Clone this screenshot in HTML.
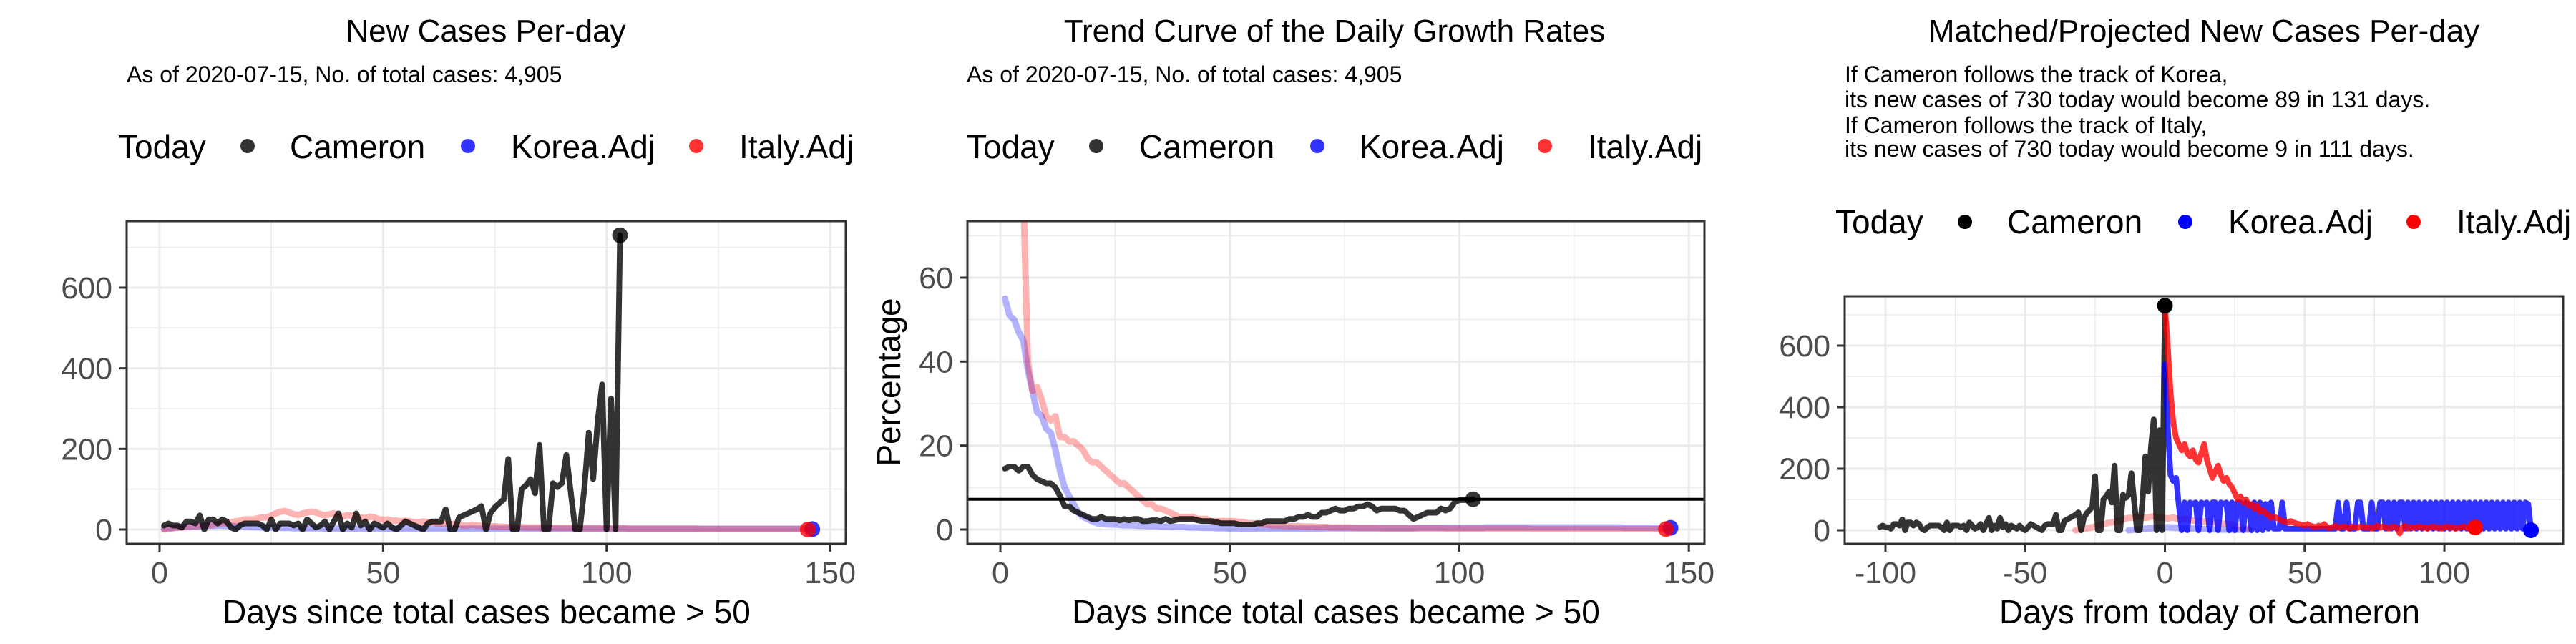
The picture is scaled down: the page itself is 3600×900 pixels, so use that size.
<!DOCTYPE html>
<html><head><meta charset="utf-8"><style>
html,body{margin:0;padding:0;background:#fff;}
svg{display:block;font-family:"Liberation Sans",Arial,sans-serif;}
</style></head><body>
<svg id="chart" width="3600" height="900" viewBox="0 0 3600 900" xmlns="http://www.w3.org/2000/svg">
<rect x="0" y="0" width="3600" height="900" fill="#fff"/>
<defs>
<clipPath id="clip1"><rect x="177" y="309" width="1005" height="451"/></clipPath>
<clipPath id="clip2"><rect x="1352" y="309" width="1030" height="451"/></clipPath>
<clipPath id="clip3"><rect x="2578" y="414" width="1004" height="346"/></clipPath>
</defs>
<text x="679" y="58" font-size="44" text-anchor="middle">New Cases Per-day</text>
<text x="177" y="115" font-size="32">As of 2020-07-15, No. of total cases: 4,905</text>
<g>
<text x="165" y="221" font-size="46">Today</text>
<circle cx="346" cy="204" r="10" fill="#000" fill-opacity="0.8"/>
<text x="405" y="221" font-size="46">Cameron</text>
<circle cx="654" cy="204" r="10" fill="#00f" fill-opacity="0.8"/>
<text x="714" y="221" font-size="46">Korea.Adj</text>
<circle cx="973" cy="204" r="10" fill="#f00" fill-opacity="0.8"/>
<text x="1033" y="221" font-size="46">Italy.Adj</text>
</g>
<text x="1865" y="58" font-size="44" text-anchor="middle">Trend Curve of the Daily Growth Rates</text>
<text x="1351" y="115" font-size="32">As of 2020-07-15, No. of total cases: 4,905</text>
<g>
<text x="1351" y="221" font-size="46">Today</text>
<circle cx="1532" cy="204" r="10" fill="#000" fill-opacity="0.8"/>
<text x="1592" y="221" font-size="46">Cameron</text>
<circle cx="1841" cy="204" r="10" fill="#00f" fill-opacity="0.8"/>
<text x="1900" y="221" font-size="46">Korea.Adj</text>
<circle cx="2159" cy="204" r="10" fill="#f00" fill-opacity="0.8"/>
<text x="2219" y="221" font-size="46">Italy.Adj</text>
</g>
<text transform="translate(1258,534) rotate(-90)" font-size="46" text-anchor="middle">Percentage</text>
<text x="3080" y="58" font-size="44" text-anchor="middle">Matched/Projected New Cases Per-day</text>
<g font-size="32">
<text x="2578" y="115">If Cameron follows the track of Korea,</text>
<text x="2578" y="150">its new cases of 730 today would become 89 in 131 days.</text>
<text x="2578" y="186">If Cameron follows the track of Italy,</text>
<text x="2578" y="219">its new cases of 730 today would become 9 in 111 days.</text>
</g>
<g>
<text x="2565" y="326" font-size="46">Today</text>
<circle cx="2746" cy="310" r="10" fill="#000"/>
<text x="2805" y="326" font-size="46">Cameron</text>
<circle cx="3054" cy="310" r="10" fill="#00f"/>
<text x="3114" y="326" font-size="46">Korea.Adj</text>
<circle cx="3373" cy="310" r="10" fill="#f00"/>
<text x="3433" y="326" font-size="46">Italy.Adj</text>
</g>
<text x="680" y="871" font-size="46" text-anchor="middle">Days since total cases became &gt; 50</text>
<text x="1867" y="871" font-size="46" text-anchor="middle">Days since total cases became &gt; 50</text>
<text x="3088" y="871" font-size="46" text-anchor="middle">Days from today of Cameron</text>
</svg>
<script>
const cameronNew = [10,15,10,10,5,20,20,15,35,0, 25,25,15,25,20,5,0,10,15,15, 15,15,10,0,25,0,15,15,15,10, 15,0,25,15,5,10,20,0,20,40, 0,15,5,40,10,20,0,15,10,5, 15,5,0,10,20,15,10,5,0,15,
 20,20,20,50,0,0,30,35,40,45, 50,58,0,40,55,65,75,175,0,0, 100,110,125,90,210,0,0,115,105,115, 185,90,0,0,100,240,125,270,360,0, 325,0,730];
const koreaNew = [2,3,4,5,6,6,7,8,8,9, 10,9,10,10,9,9,8,8,7,7, 6,6,5,5,5,4,4,4,4,3, 3,3,3,3,3,3,2,2,2,2,
 2,2,2,2,2,2,2,2,2,2, 2,2,2,2,2,2,2,2,2,2, 2,2,2,2,2,2,2,2,2,2, 2,2,2,2,2,2,2,2,2,2, 2,2,2,2,2,2,2,2,2,2,
 2,2,2,2,2,2,2,2,2,2, 2,2,2,2,2,2,2,2,2,2, 2,2,2,2,2,2,2,2,2,2, 2,2,2,2,2,2,2,2,2,2, 2,2,2,2,2,2,2,2,2,2, 2,2,2,2,2,1];
const italyNew = [0,2,3,5,5,6,8,8,10,10, 10,12,14,16,15,18,20,22,25,25, 25,28,30,30,35,40,44,46,42,38, 36,40,42,44,42,38,35,38,40,36, 32,36,34,30,30,28,32,30,26,24,
 25,22,22,20,22,20,18,18,20,18, 18,15,15,14,14,12,12,10,10,12, 10,10,8,8,8,7,7,6,6,6, 6,5,5,5,5,5,4,4,4,4, 4,4,4,3,3,3,3,3,3,3,
 3,3,3,3,2,2,2,2,2,2, 2,2,2,2,2,2,2,2,2,2, 1,1,1,1,1,1,1,1,1,1, 1,1,1,1,1,1,1,1,1,1, 1,1,1,1,0];
const cameronRate = [14.5,15,15,14,15,15,13,12,11.5,11, 11,10,8,5.5,5.5,4.5,4,3.5,3,2.5, 2.5,3,2.5,2.5,2.5,2.2,2.5,2.2,2.5,2.5, 2,2,2.2,2.2,2,2.5,2,2.2,2.5,2.5,
 2.5,2.5,2.2,2,2,2,1.8,1.5,1.5,1.5, 1.5,1.2,1.2,1.2,1.2,1.5,1.5,2,2,2, 2,2,2.5,2.5,3,3,3.5,3,3,4, 4,4.5,5,4.5,4.5,5,5,5.5,5.5,6,
 5.5,4.5,5,5,5,5,4.5,4.5,3.5,2.5, 3,3.5,4,4,4,5,4.5,5,6.5,7, 7,7,7.2];
const koreaRate = [55,51,50,47,45,38,33,28,27,24, 23,19,14,10,8,6,4,3,2.5,2, 1.5,1.4,1.3,1.2,1.2,1.1,1,1,1,0.9, 0.9,0.8,0.8,0.8,0.7,0.7,0.7,0.6,0.6,0.6,
 0.5,0.5,0.5,0.4,0.4,0.4,0.3,0.3,0.3,0.2, 0.2,0.2,0.2,0.2,0.2,0.2,0.2,0.2,0.2,0.2, 0.2,0.2,0.2,0.2,0.2,0.2,0.2,0.2,0.2,0.2, 0.3,0.3,0.3,0.3,0.3,0.3,0.3,0.3,0.3,0.3,
 0.3,0.3,0.3,0.3,0.3,0.3,0.3,0.3,0.3,0.3, 0.4,0.4,0.4,0.4,0.4,0.4,0.4,0.4,0.4,0.4, 0.4,0.4,0.4,0.4,0.4,0.5,0.5,0.5,0.5,0.5, 0.5,0.5,0.5,0.5,0.5,0.5,0.5,0.5,0.5,0.5,
 0.5,0.5,0.5,0.5,0.5,0.5,0.5,0.5,0.5,0.5, 0.5,0.5,0.5,0.5,0.5,0.4,0.4,0.4,0.4,0.4, 0.4,0.4,0.4,0.4,0.4,0.4];
const italyRate = [100,95,90,85,80,40,33,34,31,27, 26,27,22,22,21,21,20,19,17,16, 16,15,14,13,12,11,11,10,9,8, 7,6,6,5,5,4.5,4,3.5,3,3, 3,3,2.5,2.5,2.5,2,2,2,2,2,
 2,1.8,1.8,1.5,1.5,1.5,1.2,1.2,1,1, 0.9,0.9,0.8,0.8,0.8,0.7,0.7,0.7,0.6,0.6, 0.6,0.5,0.5,0.5,0.5,0.5,0.4,0.4,0.4,0.4, 0.4,0.4,0.3,0.3,0.3,0.3,0.3,0.3,0.3,0.3,
 0.3,0.3,0.3,0.3,0.3,0.3,0.2,0.2,0.2,0.2, 0.2,0.2,0.2,0.2,0.2,0.2,0.2,0.2,0.2,0.2, 0.2,0.2,0.2,0.2,0.2,0.1,0.1,0.1,0.1,0.1, 0.1,0.1,0.1,0.1,0.1,0.1,0.1,0.1,0.1,0.1,
 0.1,0.1,0.1,0.1,0.1,0.1,0.1,0.1,0.1,0.1, 0.1,0.1,0.1,0.1,0.1];
const koreaProj = [540,340,180,160,170,80,0,90,0,90, 85,90,0,90,85,90,0,90,90,0, 90,85,90,0,90,0,90,90,0,90, 85,0,90,0,90,0,85,5,90,5,
 5,5,90,5,5,5,5,5,5,5, 5,5,5,5,5,5,5,5,5,5, 5,5,90,5,5,90,5,5,5,90, 90,5,5,5,90,5,5,90,90,5, 90,5,90,5,90,90,5,90,5,90,
 5,90,5,90,5,90,5,90,5,90, 5,90,5,90,5,90,5,90,5,90, 5,90,5,90,5,90,5,90,5,90, 5,90,5,90,5,90,5,90,5,90, 85,0];
const italyProj = [730,600,450,350,300,280,260,280,250,240, 260,230,220,250,280,230,200,170,190,210, 180,160,170,150,140,120,100,110,90,100, 80,85,70,80,60,65,55,50,40,45,
 40,35,30,28,25,30,25,22,20,18, 15,20,15,12,10,15,12,20,10,8, 10,15,8,10,12,10,5,12,10,8, 12,10,8,10,5,10,15,8,12,10,
 5,10,12,8,-10,10,15,5,10,8, 10,12,8,10,5,10,12,8,10,5, 10,12,8,10,5,8,10,12,8,10, 5,9];
const italyPre = [0,2,4,5,6,8,10,12,15,18, 20,22,25,25,28,30,30,35,38,40, 40,42,44,45,42,40,42,44,45,42, 40,42,40,38,40,42,38,36,35,38, 36,34,32,30,32,30,28,30,28,26, 25,22,22,20,22,20,18,15,12,10, 8,6,5];
const koreaPre = [0,1,2,3,4,5,5,6,6,7, 8,8,9,9,10,9,9,8,8,7, 7,6,6,5,5,5,4,4,4,3, 3,3,3,2,2,2,2,2,2,2, 2,2,2,2];
const italyPreStart = -32, koreaPreStart = -13;
const newTicksY = [0,200,400,600], newMinorY = [100,300,500,700];
const rateTicksY = [0,20,40,60], rateMinorY = [10,30,50,70];
const daysTicks = [0,50,100,150], daysMinor = [25,75,125];
const fromTicks = [-100,-50,0,50,100], fromMinor = [-75,-25,25,75,125];

const svg = document.getElementById('chart');
const NS = 'http://www.w3.org/2000/svg';
function mk(tag, attrs, parent){
  const e = document.createElementNS(NS, tag);
  for (const k in attrs) e.setAttribute(k, attrs[k]);
  (parent||svg).appendChild(e);
  return e;
}
function makePanel(p){
  p.sx = v => p.x0 + (v - p.xmin)/(p.xmax - p.xmin)*(p.x1 - p.x0);
  p.sy = v => p.y1 - (v - p.ymin)/(p.ymax - p.ymin)*(p.y1 - p.y0);
  const g = mk('g', {});
  
  
  p.yMinor.forEach(v => { if (v > p.ymin && v < p.ymax) mk('line',{x1:p.x0,x2:p.x1,y1:p.sy(v),y2:p.sy(v),stroke:'#ebebeb','stroke-width':1.5},g); });
  p.xMinor.forEach(v => { if (v > p.xmin && v < p.xmax) mk('line',{x1:p.sx(v),x2:p.sx(v),y1:p.y0,y2:p.y1,stroke:'#ebebeb','stroke-width':1.5},g); });
  p.yTicks.forEach(v => mk('line',{x1:p.x0,x2:p.x1,y1:p.sy(v),y2:p.sy(v),stroke:'#ebebeb','stroke-width':3},g));
  p.xTicks.forEach(v => mk('line',{x1:p.sx(v),x2:p.sx(v),y1:p.y0,y2:p.y1,stroke:'#ebebeb','stroke-width':3},g));
  p.plot = mk('g', {'clip-path':'url(#' + p.clip + ')'});
  
  
  return p;
}
function finishPanel(p){
  const b = mk('rect',{x:p.x0,y:p.y0,width:p.x1-p.x0,height:p.y1-p.y0,fill:'none',stroke:'#333','stroke-width':3});
  
  
  const ax = mk('g', {});
  
  
  p.yTicks.forEach(v => {
    const y = p.sy(v);
    mk('line',{x1:p.x0-11,x2:p.x0,y1:y,y2:y,stroke:'#333','stroke-width':3},ax);
    const t = mk('text',{x:p.x0-20,y:y+15,'font-size':43,fill:'#4d4d4d','text-anchor':'end'},ax);
    t.textContent = v;
    
    
  });
  p.xTicks.forEach(v => {
    const x = p.sx(v);
    mk('line',{x1:x,x2:x,y1:p.y1,y2:p.y1+11,stroke:'#333','stroke-width':3},ax);
    const t = mk('text',{x:x,y:815,'font-size':43,fill:'#4d4d4d','text-anchor':'middle'},ax);
    t.textContent = v;
    
    
  });
}
function drawLine(p, vals, xStart, color, opacity, width, name){
  const pts = vals.map((v,i) => p.sx(xStart + i).toFixed(1) + ',' + p.sy(v).toFixed(1)).join(' ');
  const l = mk('polyline',{points:pts,fill:'none',stroke:color,'stroke-opacity':opacity,'stroke-width':width,'stroke-linejoin':'round','stroke-linecap':'round'},p.plot);
  
  
}
function drawDot(p, x, v, color, opacity, name){
  const c = mk('circle',{cx:p.sx(x),cy:p.sy(v),r:11,fill:color,'fill-opacity':opacity},p.plot);
  
  
}

const p1 = makePanel({name:'panel1',clip:'clip1',x0:177,x1:1182,y0:309,y1:760,xmin:-7.36,xmax:153.5,ymin:-35.5,ymax:765,
  xTicks:daysTicks,xMinor:daysMinor,yTicks:newTicksY,yMinor:newMinorY});
drawLine(p1, koreaNew, 1, '#0000ff', 0.3, 9, 'korea-new-line');
drawLine(p1, italyNew, 1, '#ff0000', 0.3, 9, 'italy-new-line');
drawLine(p1, cameronNew, 1, '#000', 0.8, 8, 'cameron-new-line');
drawDot(p1, cameronNew.length, cameronNew[cameronNew.length-1], '#000', 0.8, 'cameron-today-dot');
drawDot(p1, koreaNew.length, koreaNew[koreaNew.length-1], '#0000ff', 0.8, 'korea-today-dot');
drawDot(p1, italyNew.length, italyNew[italyNew.length-1], '#ff0000', 0.8, 'italy-today-dot');
finishPanel(p1);

const p2 = makePanel({name:'panel2',clip:'clip2',x0:1352,x1:2382,y0:309,y1:760,xmin:-7.17,xmax:153.4,ymin:-3.41,ymax:73.46,
  xTicks:daysTicks,xMinor:daysMinor,yTicks:rateTicksY,yMinor:rateMinorY});
drawLine(p2, koreaRate, 1, '#0000ff', 0.3, 9, 'korea-rate-line');
drawLine(p2, italyRate, 1, '#ff0000', 0.3, 9, 'italy-rate-line');
drawLine(p2, cameronRate, 1, '#000', 0.8, 8, 'cameron-rate-line');
const todayRate = cameronRate[cameronRate.length-1];
const hl = mk('line',{x1:p2.x0,x2:p2.x1,y1:p2.sy(todayRate),y2:p2.sy(todayRate),stroke:'#000','stroke-width':4},p2.plot);


drawDot(p2, cameronRate.length, todayRate, '#000', 0.8, 'cameron-today-dot');
drawDot(p2, koreaRate.length, koreaRate[koreaRate.length-1], '#0000ff', 0.8, 'korea-today-dot');
drawDot(p2, italyRate.length, italyRate[italyRate.length-1], '#ff0000', 0.8, 'italy-today-dot');
finishPanel(p2);

const p3 = makePanel({name:'panel3',clip:'clip3',x0:2578,x1:3582,y0:414,y1:760,xmin:-114.6,xmax:142.5,ymin:-44.2,ymax:760.5,
  xTicks:fromTicks,xMinor:fromMinor,yTicks:newTicksY,yMinor:newMinorY});
drawLine(p3, koreaPre, koreaPreStart, '#0000ff', 0.3, 9, 'korea-matched-line');
drawLine(p3, italyPre, italyPreStart, '#ff0000', 0.3, 9, 'italy-matched-line');
drawLine(p3, cameronNew, -(cameronNew.length-1), '#000', 0.8, 8, 'cameron-history-line');
drawLine(p3, koreaProj, 0, '#0000ff', 0.8, 8, 'korea-projected-line');
drawLine(p3, italyProj, 0, '#ff0000', 0.8, 8, 'italy-projected-line');
drawDot(p3, 0, cameronNew[cameronNew.length-1], '#000', 1, 'cameron-today-dot');
drawDot(p3, koreaProj.length-1, koreaProj[koreaProj.length-1], '#0000ff', 1, 'korea-end-dot');
drawDot(p3, italyProj.length-1, italyProj[italyProj.length-1], '#ff0000', 1, 'italy-end-dot');
finishPanel(p3);
</script>
</body></html>
